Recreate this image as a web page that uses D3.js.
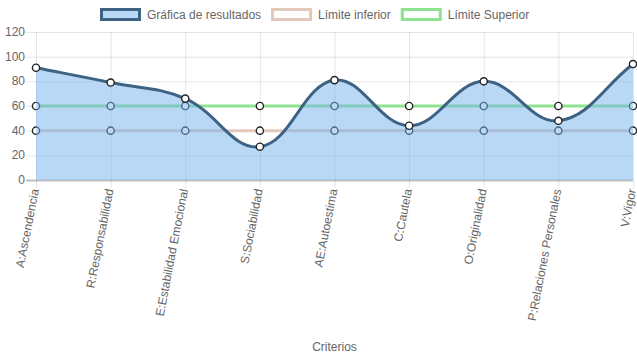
<!DOCTYPE html>
<html><head><meta charset="utf-8">
<script src="https://cdn.jsdelivr.net/npm/d3@7"></script>
<style>
html,body{margin:0;padding:0;background:#fff;}
svg{display:block;font-family:"Liberation Sans",Arial,Helvetica,sans-serif;}
</style></head>
<body><svg id="c" width="637" height="359"></svg>
<script>
const categories = ["A:Ascendencia","R:Responsabilidad","E:Estabilidad Emocional","S:Sociabilidad","AE:Autoestima","C:Cautela","O:Originalidad","P:Relaciones Personales","V:Vigor"];
const resultados = [91,79,66,27,81,44,80,48,94];
const limiteInferior = [40,40,40,40,40,40,40,40,40];
const limiteSuperior = [60,60,60,60,60,60,60,60,60];
const yTicks = [0,20,40,60,80,100,120];
const seriesNames = ["Gráfica de resultados","Límite inferior","Límite Superior"];
const xTitle = "Criterios";

const svg = d3.select("#c");
const pLeft = 36, pRight = 633, pTop = 32, pBottom = 180;
const x = d3.scalePoint().domain(categories).range([pLeft, pRight]);
const y = d3.scaleLinear().domain([0,120]).range([pBottom, pTop]);

const colRes = "#3d6283", colFill = "rgba(116,178,238,0.5)", colInf = "#e2c9bc", colSup = "#8fe28f";

// grid
const g = svg.append("g");
yTicks.forEach(t => {
  g.append("line").attr("x1", pLeft-10).attr("x2", pRight).attr("y1", y(t)+0.5).attr("y2", y(t)+0.5)
   .attr("stroke", t===0 ? "rgba(0,0,0,0.25)" : "rgba(0,0,0,0.1)").attr("stroke-width", t===0?2:1);
  g.append("text").attr("x", pLeft-11).attr("y", y(t)).attr("text-anchor","end").attr("dominant-baseline","central")
   .attr("font-size",12).attr("fill","#666").text(t);
});
categories.forEach(c => {
  g.append("line").attr("x1", x(c)+0.5).attr("x2", x(c)+0.5).attr("y1", pTop).attr("y2", pBottom+8)
   .attr("stroke","rgba(0,0,0,0.1)");
  g.append("text").attr("transform", `translate(${x(c)-1},${pBottom+9}) rotate(-79)`)
   .attr("text-anchor","end").attr("dominant-baseline","central").attr("font-size",12).attr("fill","#666").text(c);
});
svg.append("text").attr("x",(pLeft+pRight)/2).attr("y",351).attr("text-anchor","middle").attr("font-size",12).attr("fill","#666").text(xTitle);

// Chart.js-like spline
function splinePath(pts, close){
  const t = 0.4;
  const cap = v => [Math.max(pLeft,Math.min(pRight,v[0])), Math.max(pTop,Math.min(pBottom,v[1]))];
  const cps = pts.map((p,i)=>{
    const prev = pts[i-1]||p, next = pts[i+1]||p;
    const d01 = Math.hypot(p[0]-prev[0], p[1]-prev[1]);
    const d12 = Math.hypot(next[0]-p[0], next[1]-p[1]);
    let s01 = d01/(d01+d12), s12 = d12/(d01+d12);
    if(isNaN(s01)) s01=0; if(isNaN(s12)) s12=0;
    const fa=t*s01, fb=t*s12;
    return {prev: cap([p[0]-fa*(next[0]-prev[0]), p[1]-fa*(next[1]-prev[1])]),
            next: cap([p[0]+fb*(next[0]-prev[0]), p[1]+fb*(next[1]-prev[1])])};
  });
  const path = d3.path();
  path.moveTo(pts[0][0], pts[0][1]);
  for(let i=1;i<pts.length;i++){
    path.bezierCurveTo(cps[i-1].next[0], cps[i-1].next[1], cps[i].prev[0], cps[i].prev[1], pts[i][0], pts[i][1]);
  }
  if(close){
    path.lineTo(pts[pts.length-1][0], y(0));
    path.lineTo(pts[0][0], y(0));
    path.closePath();
  }
  return path.toString();
}

function drawPoints(pts){
  svg.append("g").selectAll("circle").data(pts).join("circle")
    .attr("cx",d=>d[0]).attr("cy",d=>d[1]).attr("r",3.6).attr("fill","#fff").attr("stroke","#222").attr("stroke-width",1.4);
}
function drawSeries(vals, color, fill){
  const pts = categories.map((c,i)=>[x(c), y(vals[i])]);
  if(fill) svg.append("path").attr("d", splinePath(pts,true)).attr("fill", fill);
  svg.append("path").attr("d", splinePath(pts,false)).attr("fill","none").attr("stroke",color).attr("stroke-width",3);
  drawPoints(pts);
}
drawSeries(limiteSuperior, colSup, null);
drawSeries(limiteInferior, colInf, null);
drawSeries(resultados, colRes, colFill);

// legend
const legend = svg.append("g");
const legFill = ["#b9d9f6","#fff","#fff"], legStroke = [colRes, colInf, colSup];
let lx = 100;
seriesNames.forEach((n,i)=>{
  legend.append("rect").attr("x",lx+1.5).attr("y",9.5).attr("width",38).attr("height",10)
    .attr("fill",legFill[i]).attr("stroke",legStroke[i]).attr("stroke-width",3);
  const tx = legend.append("text").attr("x",lx+47).attr("y",15).attr("dominant-baseline","central")
    .attr("font-size",12).attr("fill","#666").text(n);
  lx = lx + 47 + tx.node().getComputedTextLength() + 10;
});
</script></body></html>
